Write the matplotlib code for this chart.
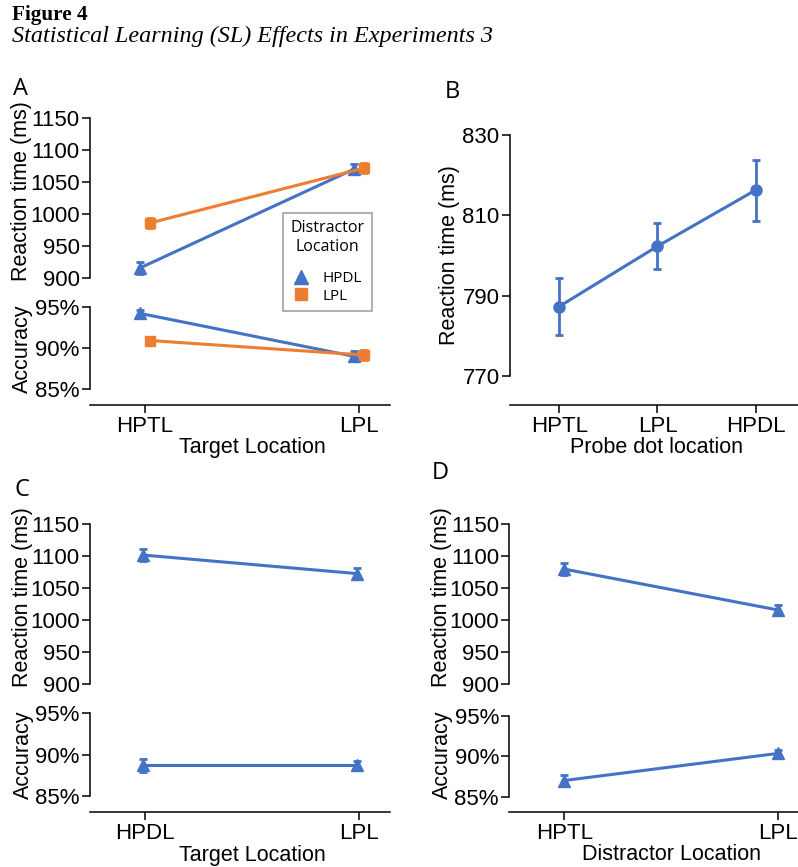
import matplotlib
matplotlib.use("Agg")
import matplotlib.pyplot as plt
from matplotlib.lines import Line2D
from matplotlib.ticker import PercentFormatter
import numpy as np

BLUE, ORANGE = "#4472c4", "#ed7d31"
W, H = 798, 867
TICK_FS, LAB_FS = 16, 15.5

# --- data ---
a_cats = ["HPTL", "LPL"]
a_rt_hpdl = [915, 1070]
a_rt_hpdl_err = [9, 8]
a_rt_lpl = [986, 1072]
a_rt_lpl_err = [8, 8]
a_acc_hpdl = [94.2, 89.0]
a_acc_hpdl_err = [0.4, 0.6]
a_acc_lpl = [90.9, 89.15]
a_acc_lpl_err = [0.3, 0.6]

b_cats = ["HPTL", "LPL", "HPDL"]
b_rt = [787.3, 802.3, 816.3]
b_rt_err = [7.1, 5.7, 7.6]

c_cats = ["HPDL", "LPL"]
c_rt = [1102, 1073]
c_rt_err = [10, 8.5]
c_acc = [88.7, 88.7]
c_acc_err = [0.75, 0.55]

d_cats = ["HPTL", "LPL"]
d_rt = [1080, 1016]
d_rt_err = [9, 8.3]
d_acc = [87.0, 90.35]
d_acc_err = [0.72, 0.4]

plt.rcParams["font.family"] = ["Liberation Sans", "DejaVu Sans"]
fig = plt.figure(figsize=(W / 100, H / 100), dpi=100, facecolor="white")


def px_axes(x0, y0, x1, y1):
    return fig.add_axes([x0 / W, 1 - y1 / H, (x1 - x0) / W, (y1 - y0) / H])


def style(ax, bottom=False, offset=0):
    for s in ["top", "right"]:
        ax.spines[s].set_visible(False)
    ax.spines["left"].set_linewidth(1.1)
    ax.tick_params(axis="y", length=6, width=1.1, labelsize=TICK_FS, pad=1.5)
    if bottom:
        ax.spines["bottom"].set_position(("outward", offset))
        ax.spines["bottom"].set_linewidth(1.1)
        ax.tick_params(axis="x", length=6, width=1.1, labelsize=TICK_FS, pad=2)
    else:
        ax.spines["bottom"].set_visible(False)
        ax.tick_params(axis="x", bottom=False, labelbottom=False)
    ax.patch.set_alpha(0)


def series(ax, x, y, err, color, marker, ms=8.5):
    ax.errorbar(x, y, yerr=err, color=color, marker=marker, markersize=ms,
                linewidth=2.2, elinewidth=2, capsize=3, capthick=2, clip_on=False)


def rt_acc_panel(x0, x1, rt_top, rt_bot, acc_top, acc_bot, axis_y, xl, xr, cats):
    rt = px_axes(x0, rt_top, x1, rt_bot)
    acc = px_axes(x0, acc_top, x1, acc_bot)
    rt.set_ylim(900, 1150)
    rt.set_yticks([900, 950, 1000, 1050, 1100, 1150])
    acc.set_ylim(85, 95)
    acc.set_yticks([85, 90, 95])
    acc.yaxis.set_major_formatter(PercentFormatter(decimals=0))
    for ax in (rt, acc):
        ax.set_xlim(xl, xr)
    style(rt)
    style(acc, bottom=True, offset=(axis_y - acc_bot) * 0.72)
    acc.set_xticks(range(len(cats)))
    acc.set_xticklabels(cats)
    return rt, acc


def label(x, y, s, rot=0):
    fig.text(x / W, 1 - y / H, s, rotation=rot, ha="center", va="center", fontsize=LAB_FS)


# --- Panel A ---
rtA, accA = rt_acc_panel(90, 390, 118.3, 277.7, 306.7, 389.3, 405, -0.257, 1.145, a_cats)
xa = np.arange(len(a_cats))
d = 0.025
series(rtA, xa - d, a_rt_hpdl, a_rt_hpdl_err, BLUE, "^")
series(rtA, xa + d, a_rt_lpl, a_rt_lpl_err, ORANGE, "s", 7.5)
series(accA, xa - d, a_acc_hpdl, a_acc_hpdl_err, BLUE, "^")
series(accA, xa + d, a_acc_lpl, a_acc_lpl_err, ORANGE, "s", 7.5)

handles = [Line2D([], [], color=BLUE, marker="^", linestyle="none", markersize=10),
           Line2D([], [], color=ORANGE, marker="s", linestyle="none", markersize=9)]
leg = fig.legend(handles, ["HPDL", "LPL"], title="Distractor\nLocation",
                 loc="upper left", bbox_to_anchor=(283 / W, 1 - 212.7 / H), borderaxespad=0,
                 prop={"family": "Open Sans", "size": 11},
                 title_fontproperties={"family": "Open Sans", "size": 11.5},
                 fancybox=False, edgecolor="#9a9a9a", framealpha=1,
                 borderpad=0.5, handlelength=1.0, handletextpad=0.9, labelspacing=0.15)
leg.get_frame().set_linewidth(1.1)
leg.get_title().set_multialignment("center")
leg.get_title().set_linespacing(1.2)
leg._legend_box.sep = 12

label(22, 191, "Reaction time (ms)", 90)
label(22, 349, "Accuracy", 90)
label(252, 448, "Target Location")

# --- Panel B ---
axB = px_axes(510, 135, 798, 376)
axB.set_ylim(770, 830)
axB.set_yticks([770, 790, 810, 830])
axB.set_xlim(-0.50, 2.43)
style(axB, bottom=True, offset=29 * 0.72)
xb = np.arange(len(b_cats))
series(axB, xb, b_rt, b_rt_err, BLUE, "o", 8)
axB.set_xticks(xb)
axB.set_xticklabels(b_cats)
label(449, 255, "Reaction time (ms)", 90)
label(657, 448, "Probe dot location")

# --- Panel C ---
rtC, accC = rt_acc_panel(90, 390, 524.3, 684.3, 713.3, 796, 811.7, -0.257, 1.145, c_cats)
xc = np.arange(len(c_cats))
series(rtC, xc - 0.01, c_rt, c_rt_err, BLUE, "^")
series(accC, xc - 0.01, c_acc, c_acc_err, BLUE, "^")
label(23, 597, "Reaction time (ms)", 90)
label(23, 755, "Accuracy", 90)
label(252, 855, "Target Location")

# --- Panel D ---
rtD, accD = rt_acc_panel(509.3, 798, 524.3, 684.3, 715.7, 796.7, 811.7, -0.257, 1.092, d_cats)
xd = np.arange(len(d_cats))
series(rtD, xd, d_rt, d_rt_err, BLUE, "^")
series(accD, xd, d_acc, d_acc_err, BLUE, "^")
label(442, 597, "Reaction time (ms)", 90)
label(442, 755, "Accuracy", 90)
label(672, 855, "Distractor Location")

# --- panel letters and header ---
for lab, x, y in [("A", 13, 89), ("B", 445, 92), ("C", 15, 490), ("D", 432, 473)]:
    fig.text(x / W, 1 - y / H, lab, ha="left", va="center", fontsize=17, family="Open Sans")
fig.text(12 / W, 1 - 20 / H, "Figure 4", ha="left", va="baseline", fontsize=15.3,
         family="Liberation Serif", weight="bold")
fig.text(12 / W, 1 - 42 / H, "Statistical Learning (SL) Effects in Experiments 3", ha="left",
         va="baseline", fontsize=17.4, family="Liberation Serif", style="italic")

fig.savefig("out.png", dpi=100, facecolor="white")
